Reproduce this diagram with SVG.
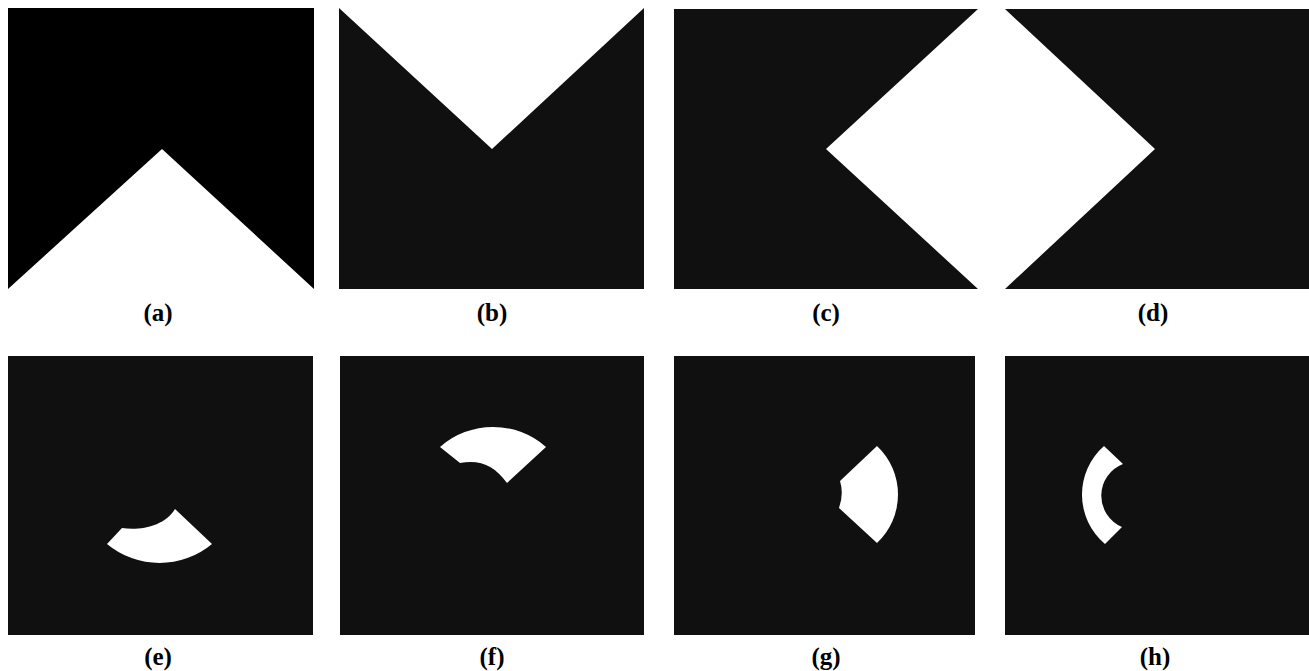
<svg xmlns="http://www.w3.org/2000/svg" width="1309" height="671" viewBox="0 0 1309 671">
<style>
.bg{fill:#101010}
.bk{fill:#000}
.wh{fill:#fff}
.lb{font-family:"Liberation Serif","Times New Roman",serif;font-weight:bold;font-size:25px;fill:#000;text-anchor:middle}
</style>
<rect width="1309" height="671" fill="#fff"/>
<g id="panel-a">
<polygon class="bk" points="8,8 314,8 314,289 162,149 8,289"/>
<text class="lb" x="158" y="321">(a)</text>
</g>
<g id="panel-b">
<polygon class="bg" points="339,8 492,149 644,8 644,289 339,289"/>
<text class="lb" x="492" y="321">(b)</text>
</g>
<g id="panel-c">
<polygon class="bg" points="674,9 978,9 826,149 978,289 674,289"/>
<text class="lb" x="826" y="321">(c)</text>
</g>
<g id="panel-d">
<polygon class="bg" points="1005,9 1309,9 1309,289 1005,289 1155,149"/>
<text class="lb" x="1153" y="321">(d)</text>
</g>
<g id="panel-e">
<rect class="bg" x="8" y="356" width="305" height="279"/>
<path class="wh" d="M107,544 L122,528 C140,531 165,526 175,509 L212,544 A82,82 0 0 1 107,544 Z"/>
<text class="lb" x="158" y="665">(e)</text>
</g>
<g id="panel-f">
<rect class="bg" x="340" y="356" width="304" height="279"/>
<path class="wh" d="M440,447 A80,80 0 0 1 546,447 L507,483 C495,466 480,459 460,463 Z"/>
<text class="lb" x="492" y="665">(f)</text>
</g>
<g id="panel-g">
<rect class="bg" x="674" y="356" width="301" height="279"/>
<path class="wh" d="M877,446 A66.5,66.5 0 0 1 877,543 L839,508 Q844,494 840,481 Z"/>
<text class="lb" x="826" y="665">(g)</text>
</g>
<g id="panel-h">
<rect class="bg" x="1005" y="356" width="304" height="279"/>
<path class="wh" d="M1104,446 L1123,464 A34,34 0 0 0 1122,527 L1105,544 A64.6,64.6 0 0 1 1104,446 Z"/>
<text class="lb" x="1155" y="665">(h)</text>
</g>
<g id="connectors"></g>
</svg>
